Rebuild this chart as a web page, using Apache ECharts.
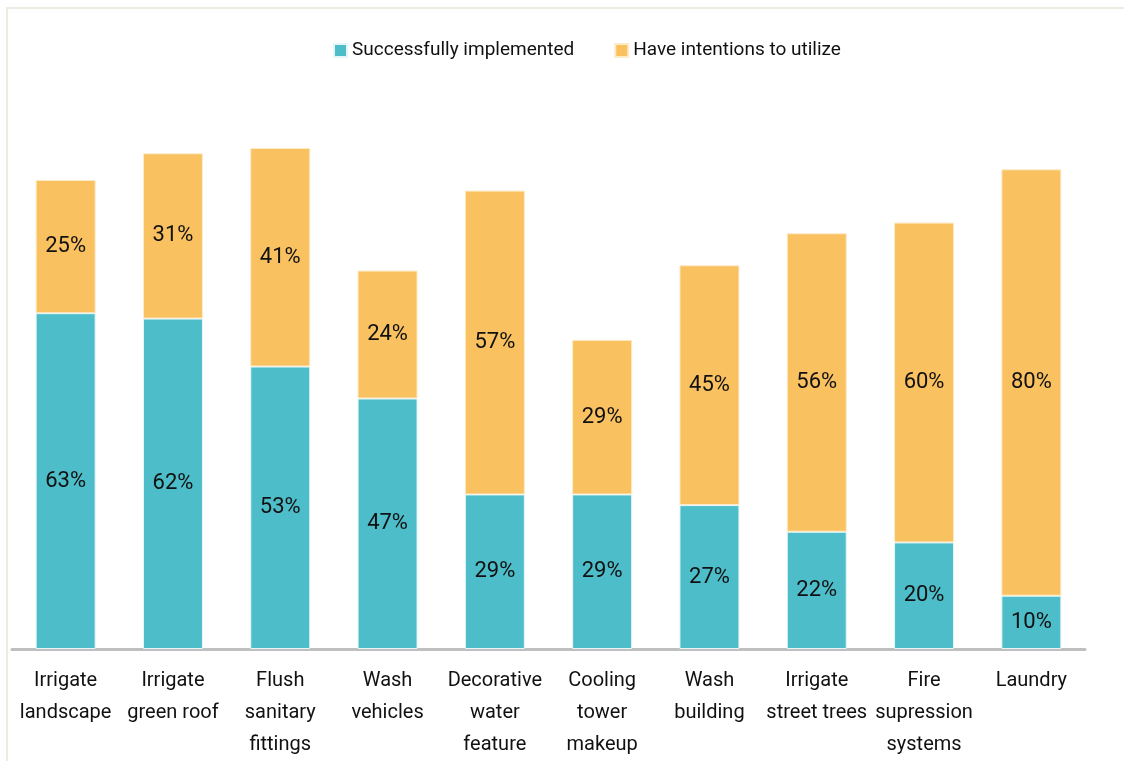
<!DOCTYPE html>
<html><head><meta charset="utf-8">
<script src="https://cdn.jsdelivr.net/npm/echarts@6/dist/echarts.min.js"></script>
<style>
html,body{margin:0;padding:0;background:#fff;overflow:hidden;}
#frame{position:absolute;left:6px;top:7px;width:1118px;height:754px;border-left:2px solid #EDEBE2;border-top:2px solid #EDEBE2;box-sizing:border-box;}
#c{position:absolute;left:0;top:0;width:1124px;height:761px;}
</style></head>
<body>
<div id="frame"></div>
<div id="c"></div>
<script>
const categories = ["Irrigate\nlandscape","Irrigate\ngreen roof","Flush\nsanitary\nfittings","Wash\nvehicles","Decorative\nwater\nfeature","Cooling\ntower\nmakeup","Wash\nbuilding","Irrigate\nstreet trees","Fire\nsupression\nsystems","Laundry"];
const implemented = [63,62,53,47,29,29,27,22,20,10];
const intentions = [25,31,41,24,57,29,45,56,60,80];
const seriesNames = ["Successfully implemented","Have intentions to utilize"];

const FONT = 'Roboto,"Liberation Sans Narrow",sans-serif';
const chart = echarts.init(document.getElementById('c'));
const lbl = {show:true, position:'inside', color:'#111', fontSize:22, fontFamily:FONT, formatter:p=>p.value+'%'};
chart.setOption({
  animation:false,
  legend:{top:36, left:328, itemWidth:13, itemHeight:13, itemGap:40,
    textStyle:{fontSize:19, fontFamily:FONT, color:'#111'}, icon:'rect'},
  grid:{left:12, right:39, top:116, height:538, containLabel:false},
  xAxis:{type:'category', data:categories,
    axisLine:{show:true, lineStyle:{color:'#BFBFBF', width:3}},
    axisTick:{show:false},
    axisLabel:{interval:0, color:'#111', fontSize:20, fontFamily:FONT, lineHeight:32, margin:16}},
  yAxis:{type:'value', min:0, max:100, show:false, splitLine:{show:false}},
  series:[
    {name:seriesNames[0], type:'bar', stack:'s', data:implemented, barWidth:60,
     itemStyle:{color:'#4DBDC9', borderColor:'#E6F6F8', borderWidth:1}, label:lbl},
    {name:seriesNames[1], type:'bar', stack:'s', data:intentions, barWidth:60,
     itemStyle:{color:'#F9C160', borderColor:'#FDEBC8', borderWidth:1}, label:lbl}
  ]
});
</script>
</body></html>
